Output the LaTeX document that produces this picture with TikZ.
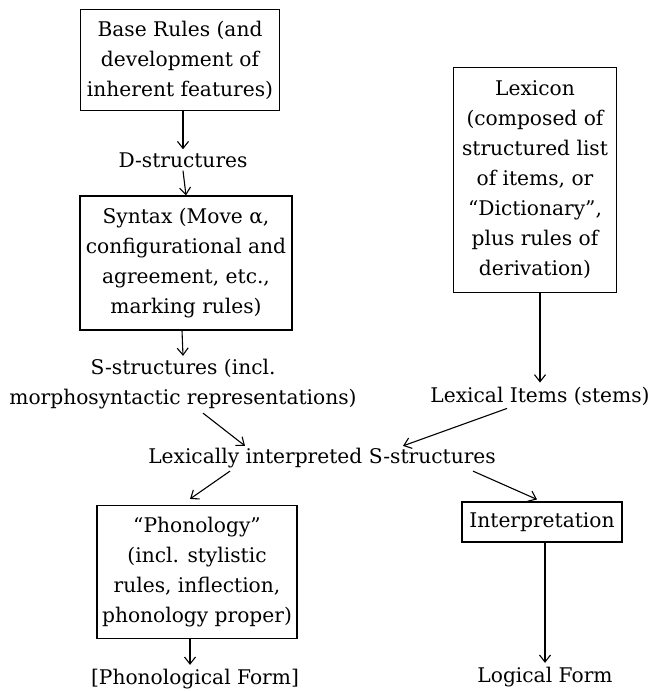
\documentclass[tikz,border=0pt]{standalone}
\usepackage{fontspec}
\setmainfont{DejaVu Serif}
\usetikzlibrary{arrows.meta}
\begin{document}
\begin{tikzpicture}[x=1pt,y=-1pt,
  every node/.style={font=\fontsize{20.2}{30}\selectfont, inner sep=0pt, align=center},
  boxnode/.style={draw, line width=1.1pt},
  conn/.style={line width=1.1pt, -{Straight Barb[length=7pt,width=11pt,line width=1.1pt]}}]
\path[use as bounding box, fill=white] (0,0) rectangle (656,692);

\node[boxnode, minimum width=199pt, minimum height=101pt] (base) at (180,60)
  {Base Rules (and\\development of\\inherent features)};
\node (d) at (183,160) {D-structures};
\node[boxnode, minimum width=212pt, minimum height=134pt] (syn) at (186,263)
  {Syntax (Move α,\\configurational and\\agreement, etc.,\\marking rules)};
\node (s) at (183,384) {S-structures (incl.\\morphosyntactic representations)};
\node[boxnode, minimum width=163pt, minimum height=225pt] (lex) at (535,180)
  {Lexicon\\(composed of\\structured list\\of items, or\\“Dictionary”,\\plus rules of\\derivation)};
\node (li) at (540,396) {Lexical Items (stems)};
\node (lis) at (322,458) {Lexically interpreted S-structures};
\node[boxnode, minimum width=200pt, minimum height=133pt] (phon) at (197,572)
  {“Phonology”\\(incl. stylistic\\rules, inflection,\\phonology proper)};
\node[boxnode, minimum width=160pt, minimum height=40pt] (interp) at (542,522)
  {Interpretation};
\node (pf) at (195,679) {[Phonological Form]};
\node (lf) at (545,677) {Logical Form};

\draw[conn] ([xshift=3pt]base.south) -- ([yshift=3pt]d.north);
\draw[conn] ([yshift=-3pt]d.south) -- (syn.north);
\draw[conn] ([xshift=-4pt]syn.south) -- ([yshift=3pt]s.north);
\draw[conn] ([xshift=5pt]lex.south) -- ([yshift=4pt]li.north);
\draw[conn] ([xshift=20pt,yshift=-4pt]s.south) -- ([xshift=-77pt,yshift=2pt]lis.north);
\draw[conn] ([xshift=-33pt,yshift=-3pt]li.south) -- ([xshift=81pt,yshift=2pt]lis.north);
\draw[conn] ([xshift=-92pt,yshift=-3pt]lis.south) -- ([xshift=-7pt,yshift=6pt]phon.north);
\draw[conn] ([xshift=151pt,yshift=-3pt]lis.south) -- ([xshift=-5pt,yshift=2pt]interp.north);
\draw[conn] ([xshift=-7pt]phon.south) -- ([xshift=-5pt,yshift=4pt]pf.north);
\draw[conn] ([xshift=3pt]interp.south) -- ([yshift=4pt]lf.north);
\end{tikzpicture}
\end{document}
